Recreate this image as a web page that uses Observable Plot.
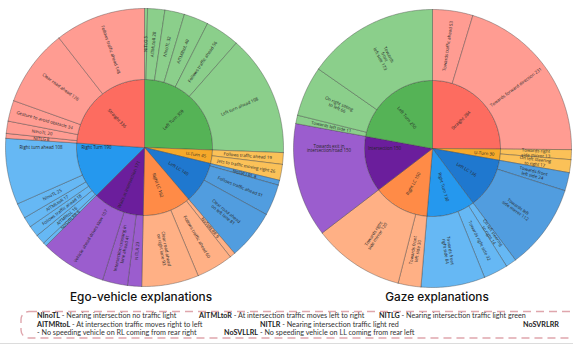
<!DOCTYPE html>
<html><head><meta charset="utf-8">
<script src="https://cdn.jsdelivr.net/npm/d3@7"></script>
<script src="https://cdn.jsdelivr.net/npm/@observablehq/plot@0.6"></script>
<style>
html,body{margin:0;padding:0;background:#fff;}
body{width:573px;height:346px;position:relative;overflow:hidden;font-family:Lato,"Open Sans",sans-serif;}
#chart{position:absolute;left:0;top:0;}
.title{position:absolute;top:290px;font-family:Inter,Lato,sans-serif;font-size:11.8px;font-weight:500;color:#111;text-align:center;width:240px;}
#legend{position:absolute;left:0;top:0;}
.lg{position:absolute;font-size:7.2px;color:#333;white-space:nowrap;font-family:Lato,sans-serif;}
.lg b{color:#222;}
</style></head><body>
<div id="chart"></div>
<div class="title" style="left:21px">Ego-vehicle explanations</div>
<div class="title" style="left:317px">Gaze explanations</div>
<svg id="legend" width="573" height="346"><rect x="21" y="311.5" width="580" height="26.5" rx="8" fill="none" stroke="#dfa6ad" stroke-width="1.4" stroke-dasharray="8 5"/><line x1="0" x2="573" y1="343.5" y2="343.5" stroke="#dcdcdc" stroke-width="1"/></svg>
<div id="lgtext"></div>
<script>
// ---------- Ego-vehicle explanations ----------
const egoParents = ["Left Turn", "U-Turn", "Left LC", "Right LC", "Waits at intersection", "Right Turn", "Straight"];
const egoKidParent = [
  "Left Turn","Left Turn","Left Turn","Left Turn","Left Turn","Left Turn",
  "U-Turn","U-Turn",
  "Left LC","Left LC","Left LC",
  "Right LC","Right LC","Right LC",
  "Waits at intersection","Waits at intersection","Waits at intersection",
  "Right Turn","Right Turn","Right Turn","Right Turn","Right Turn","Right Turn",
  "Straight","Straight","Straight","Straight","Straight"];
const egoKidLabel = [
  "NITLG","AITMLtoR","NInoTL","AITMRtoL","Follows traffic ahead","Left turn ahead",
  "Follows traffic ahead","Jets to traffic moving right",
  "NoSVLLRL","Follows traffic ahead","Clear road ahead\non left lane",
  "NoSVRLRR","Follows traffic ahead","Clear road ahead\non right lane",
  "NITLR","Intersection crossing in\nlane ahead","Vehicle ahead drives slow",
  "NoSVRLRR","AITMRtoL","Follows traffic ahead","AITMLtoR","NInoTL","Right turn ahead",
  "NITLG","NInoTL","Gesture to avoid obstacle","Clear road ahead","Follows traffic ahead"];
const egoKidValue = [
  5,28,32,40,56,198,
  19,26,
  8,51,81,
  9,60,93,
  23,41,107,
  6,16,18,17,25,108,
  8,20,34,126,148];

// ---------- Gaze explanations ----------
const gazeParents = ["Straight", "U-Turn", "Left LC", "Right Turn", "Right LC", "Intersection", "Left Turn"];
const gazeKidParent = [
  "Straight","Straight",
  "U-Turn","U-Turn",
  "Left LC","Left LC",
  "Right Turn","Right Turn","Right Turn",
  "Right LC","Right LC",
  "Intersection",
  "Left Turn","Left Turn","Left Turn"];
const gazeKidLabel = [
  "Towards traffic ahead","Towards forward direction",
  "Towards right\nside mirror","On left steering\nto right",
  "Towards front\nleft side","Towards left\nside mirror",
  "On left steering\nto right","Towards right side","Towards front\nright side",
  "Towards front\nleft side","Towards right\nside mirror",
  "Towards exit in\nintersection/road",
  "Towards left side","On right sitting\nto left","Towards\nfront\nleft side"];
const gazeKidValue = [
  53,231,
  13,17,
  24,112,
  14,32,84,
  30,120,
  150,
  11,66,173];

// legend
const legendAbbr = ["NInoTL","AITMLtoR","NITLG","AITMRtoL","NITLR","NoSVRLRR","","NoSVLLRL"];
const legendDesc = [
  " - Nearing intersection no traffic light",
  " - At intersection traffic moves left to right",
  " - Nearing intersection traffic light green",
  " - At intersection traffic moves right to left",
  " - Nearing intersection traffic light red",
  "",
  "- No speeding vehicle on RL coming from rear right",
  " - No speeding vehicle on LL coming from rear left"];

// ---------- styles ----------
const innerColor = {"Left Turn":"#55b356","U-Turn":"#f6a92a","Left LC":"#1f78cf","Right LC":"#ff8b47",
  "Waits at intersection":"#6b1e9c","Intersection":"#6b1e9c","Right Turn":"#2598ee","Straight":"#fd6c60"};
const outerColor = {"Left Turn":"#8bcf8b","U-Turn":"#fbc158","Left LC":"#519ddf","Right LC":"#ffb085",
  "Waits at intersection":"#9b5dce","Intersection":"#9b5dce","Right Turn":"#66b8f4","Straight":"#ff9c92"};
const legendPos = [[37,315.6],[199,315.6],[379,315.6],[37,324.2],[260,324.2],[523,324.2],[37,332.6],[224,332.6]];

const R0 = 68, R1 = 139;

function build(id, cx, cy, parents, kp, kl, kv) {
  const total = d3.sum(kv);
  const ang = d3.scaleLinear().domain([0, total]).range([0, 360]);
  const segs = [];
  let cum = 0;
  parents.forEach(p => {
    const idx = kp.map((q, i) => q === p ? i : -1).filter(i => i >= 0);
    const pv = d3.sum(idx, i => kv[i]);
    segs.push({id: id + p, ring: 0, a0: ang(cum), a1: ang(cum + pv), r0: 0, r1: R0, fill: innerColor[p], text: p + " " + pv});
    let c = cum;
    idx.forEach(i => {
      segs.push({id: id + p + i, ring: 1, a0: ang(c), a1: ang(c + kv[i]), r0: R0, r1: R1, fill: outerColor[p], text: kl[i] + " " + kv[i]});
      c += kv[i];
    });
    cum += pv;
  });
  const pt = (r, a) => ({x: cx + r * Math.sin(a * Math.PI / 180), y: cy - r * Math.cos(a * Math.PI / 180)});
  const pts = [], labels = [];
  segs.forEach(s => {
    const n = Math.max(2, Math.ceil((s.a1 - s.a0) / 1));
    const poly = [];
    for (let k = 0; k <= n; k++) poly.push(pt(s.r1, s.a0 + (s.a1 - s.a0) * k / n));
    if (s.r0 > 0) for (let k = n; k >= 0; k--) poly.push(pt(s.r0, s.a0 + (s.a1 - s.a0) * k / n));
    else poly.push(pt(0, 0));
    poly.push(poly[0]);
    poly.forEach(q => pts.push({...q, id: s.id, fill: s.fill}));
    const w = s.a1 - s.a0;
    let a = (s.a0 + s.a1) / 2, rot;
    let r = s.ring ? (R0 + R1) / 2 : (w > 30 ? 40 : 52);
    if (s.a0 < 270 && s.a1 > 270 && w > 25) { a = 270; rot = 0; if (!s.ring) r = 48; }
    else rot = a < 180 ? a - 90 : a - 270;
    labels.push({...pt(r, a), text: s.text, rot});
  });
  return {pts, labels};
}

const ego = build("e", 144, 147, egoParents, egoKidParent, egoKidLabel, egoKidValue);
const gaze = build("g", 432, 148, gazeParents, gazeKidParent, gazeKidLabel, gazeKidValue);
const allPts = ego.pts.concat(gaze.pts);
const allLabels = ego.labels.concat(gaze.labels);

const chart = Plot.plot({
  width: 573, height: 290,
  margin: 0,
  x: {domain: [0, 573], range: [0, 573], axis: null},
  y: {domain: [0, 290], range: [0, 290], axis: null},
  color: {type: "identity"},
  marks: [
    Plot.line(allPts, {x: "x", y: "y", z: "id", fill: "fill", stroke: "#3a3a3a", strokeWidth: 0.5, strokeOpacity: 0.75, strokeLinejoin: "round", curve: "linear"}),
    Plot.text(allLabels, {x: "x", y: "y", text: "text", rotate: "rot", fontSize: 4.4, fill: "#262626", fontFamily: "Open Sans", lineHeight: 1.1})
  ]
});
document.getElementById("chart").appendChild(chart);

const lg = document.getElementById("lgtext");
legendAbbr.forEach((a, i) => {
  const d = document.createElement("div");
  d.className = "lg";
  d.style.left = legendPos[i][0] + "px";
  d.style.top = (legendPos[i][1] - 4.5) + "px";
  d.innerHTML = (a ? "<b>" + a + "</b>" : "") + legendDesc[i];
  lg.appendChild(d);
});
</script>
</body></html>
